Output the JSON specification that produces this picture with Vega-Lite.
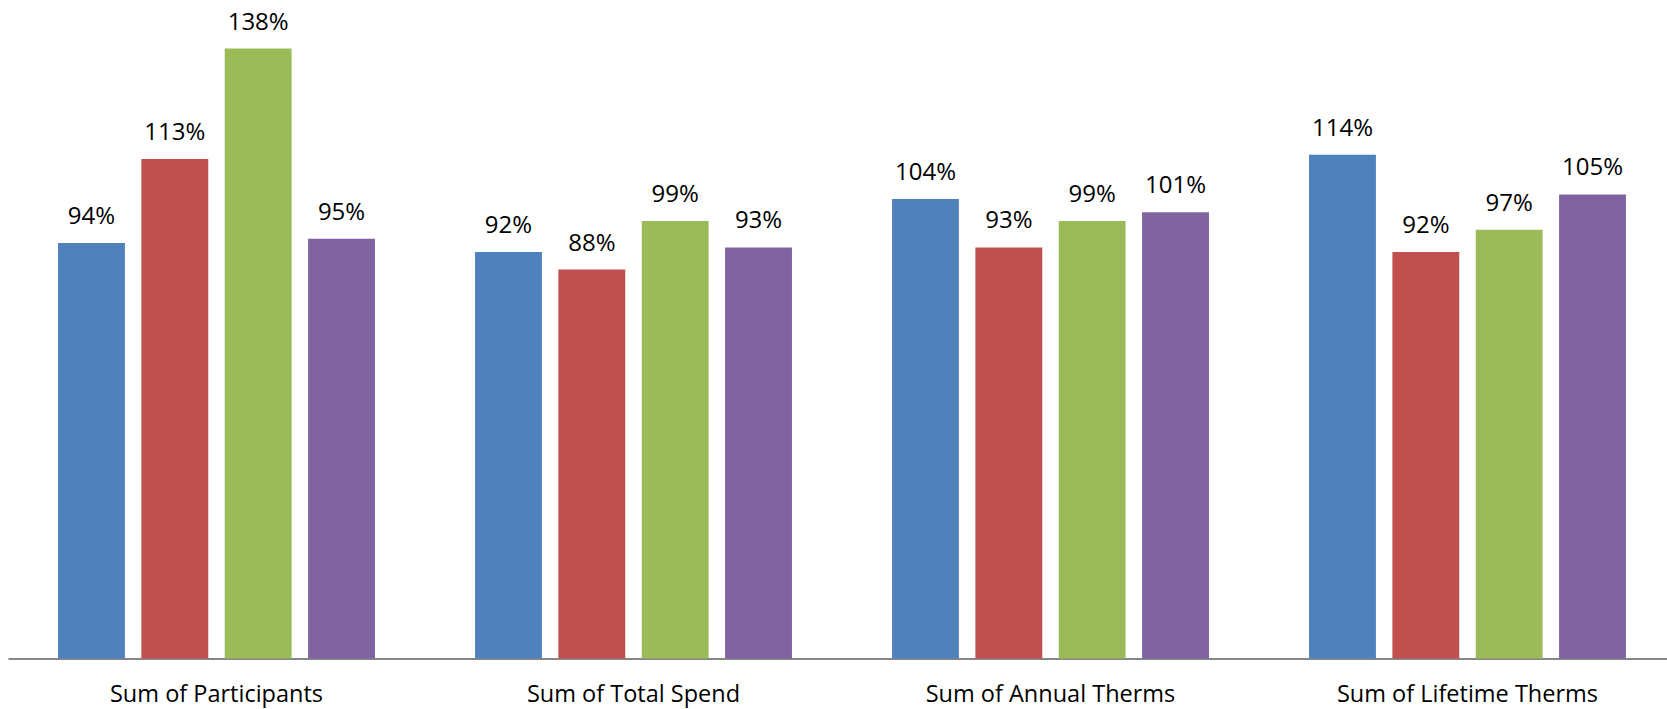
{
  "$schema": "https://vega.github.io/schema/vega-lite/v6.json",
  "autosize": {"type": "none"},
  "padding": {"left": 8, "top": 0, "right": 0, "bottom": 51},
  "width": 1668,
  "height": 658.5,
  "background": "white",
  "config": {"view": {"stroke": null}, "font": "Open Sans"},
  "data": {
    "values": [
      {"category": "Sum of Participants", "series": "Series 1", "value": 0.94},
      {"category": "Sum of Participants", "series": "Series 2", "value": 1.13},
      {"category": "Sum of Participants", "series": "Series 3", "value": 1.38},
      {"category": "Sum of Participants", "series": "Series 4", "value": 0.95},
      {"category": "Sum of Total Spend", "series": "Series 1", "value": 0.92},
      {"category": "Sum of Total Spend", "series": "Series 2", "value": 0.88},
      {"category": "Sum of Total Spend", "series": "Series 3", "value": 0.99},
      {"category": "Sum of Total Spend", "series": "Series 4", "value": 0.93},
      {"category": "Sum of Annual Therms", "series": "Series 1", "value": 1.04},
      {"category": "Sum of Annual Therms", "series": "Series 2", "value": 0.93},
      {"category": "Sum of Annual Therms", "series": "Series 3", "value": 0.99},
      {"category": "Sum of Annual Therms", "series": "Series 4", "value": 1.01},
      {"category": "Sum of Lifetime Therms", "series": "Series 1", "value": 1.14},
      {"category": "Sum of Lifetime Therms", "series": "Series 2", "value": 0.92},
      {"category": "Sum of Lifetime Therms", "series": "Series 3", "value": 0.97},
      {"category": "Sum of Lifetime Therms", "series": "Series 4", "value": 1.05}
    ]
  },
  "encoding": {
    "x": {
      "field": "category", "type": "nominal", "sort": null,
      "scale": {"paddingInner": 0.24, "paddingOuter": 0.12},
      "axis": {
        "title": null, "labelAngle": 0, "ticks": false, "labelPadding": 43, "labelBaseline": "alphabetic",
        "labelFontSize": 23.5, "labelColor": "#000000", "labelFont": "Open Sans", "labelLimit": 0,
        "domainColor": "#868686", "domainWidth": 2, "grid": false
      }
    },
    "xOffset": {"field": "series", "type": "nominal", "scale": {"paddingInner": 0.1976, "paddingOuter": 0}},
    "y": {"field": "value", "type": "quantitative", "scale": {"domain": [0, 1.49], "nice": false}, "axis": null}
  },
  "layer": [
    {
      "mark": {"type": "bar"},
      "encoding": {
        "color": {
          "field": "series", "type": "nominal",
          "scale": {"range": ["#4F81BD", "#C0504D", "#9BBB59", "#8064A2"]},
          "legend": null
        }
      }
    },
    {
      "mark": {"type": "text", "baseline": "alphabetic", "dy": -19, "fontSize": 24, "color": "#000000", "font": "Open Sans"},
      "encoding": {"text": {"field": "value", "type": "quantitative", "format": ".0%"}}
    }
  ]
}
